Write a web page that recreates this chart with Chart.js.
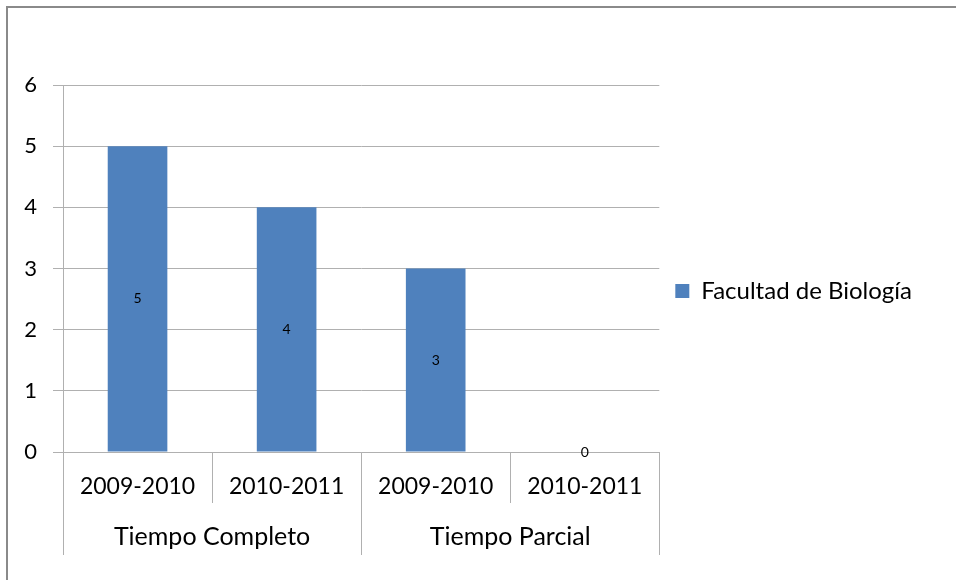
<!DOCTYPE html>
<html>
<head>
<meta charset="utf-8">
<script src="https://cdn.jsdelivr.net/npm/chart.js@4.4.1/dist/chart.umd.min.js"></script>
<style>
  html, body { margin: 0; padding: 0; background: #fff; overflow: hidden; }
  #wrap { position: relative; width: 956px; height: 580px; }
  #frame { position: absolute; left: 6px; top: 6px; width: 2000px; height: 2000px;
           border-left: 2px solid #8a8a8a; border-top: 2px solid #8a8a8a; }
  canvas { position: absolute; left: 0; top: 0; }
</style>
</head>
<body>
<div id="wrap">
  <div id="frame"></div>
  <canvas id="c" width="956" height="580"></canvas>
</div>
<script>
const categories = ['2009-2010', '2010-2011', '2009-2010', '2010-2011'];
const groups = ['Tiempo Completo', 'Tiempo Parcial'];
const seriesName = 'Facultad de Biología';
const values = [5, 4, 3, 0];
const yTicks = [0, 1, 2, 3, 4, 5, 6];

const FONT = 'Lato';
const AXIS = '#b0b0b0';

const valueLabels = {
  id: 'valueLabels',
  afterDatasetsDraw(chart) {
    const ctx = chart.ctx;
    const meta = chart.getDatasetMeta(0);
    ctx.save();
    ctx.font = '14px ' + FONT;
    ctx.fillStyle = '#000';
    ctx.textAlign = 'center';
    ctx.textBaseline = 'middle';
    meta.data.forEach((bar, i) => {
      const p = bar.getProps(['x', 'y', 'base'], true);
      ctx.fillText(String(values[i]), p.x, (p.y + p.base) / 2);
    });
    ctx.restore();
  }
};

new Chart(document.getElementById('c'), {
  type: 'bar',
  data: {
    labels: categories,
    datasets: [{
      label: seriesName,
      data: values,
      backgroundColor: '#4F81BD',
      borderWidth: 0,
      categoryPercentage: 1,
      barPercentage: 0.4
    }]
  },
  options: {
    responsive: false,
    animation: false,
    events: [],
    layout: { padding: { top: 85, bottom: 25, left: 0, right: 34 } },
    plugins: {
      legend: {
        position: 'right',
        align: 'start',
        maxWidth: 400,
        title: { display: true, text: ' ', font: { family: FONT, size: 10 }, padding: { top: 166, bottom: 0 } },
        labels: {
          boxWidth: 14, boxHeight: 14, padding: 16,
          color: '#000',
          font: { family: FONT, size: 24 }
        }
      },
      tooltip: { enabled: false }
    },
    scales: {
      x: {
        type: 'category',
        position: 'bottom',
        offset: true,
        grid: { display: true, drawOnChartArea: false, drawTicks: true, tickLength: 51, color: AXIS, offset: true },
        border: { display: true, color: AXIS },
        ticks: { color: '#000', font: { family: FONT, size: 23 }, padding: -30, maxRotation: 0, autoSkip: false },
        afterFit(s) { s.height = 51; }
      },
      x2: {
        type: 'category',
        position: 'bottom',
        labels: groups,
        offset: true,
        grid: { display: true, drawOnChartArea: false, drawTicks: true, tickLength: 52, color: AXIS, offset: true },
        border: { display: false },
        ticks: { color: '#000', font: { family: FONT, size: 25 }, padding: -33, maxRotation: 0, autoSkip: false },
        afterFit(s) { s.height = 52; }
      },
      y: {
        min: 0, max: 6,
        afterBuildTicks(s) { s.ticks = yTicks.map(v => ({ value: v })); },
        grid: { color: AXIS, tickLength: 10 },
        border: { display: true, color: AXIS },
        ticks: { color: '#000', font: { family: FONT, size: 22 }, padding: 16 },
        afterFit(s) { s.width = 63; }
      }
    }
  },
  plugins: [valueLabels]
});
</script>
</body>
</html>
